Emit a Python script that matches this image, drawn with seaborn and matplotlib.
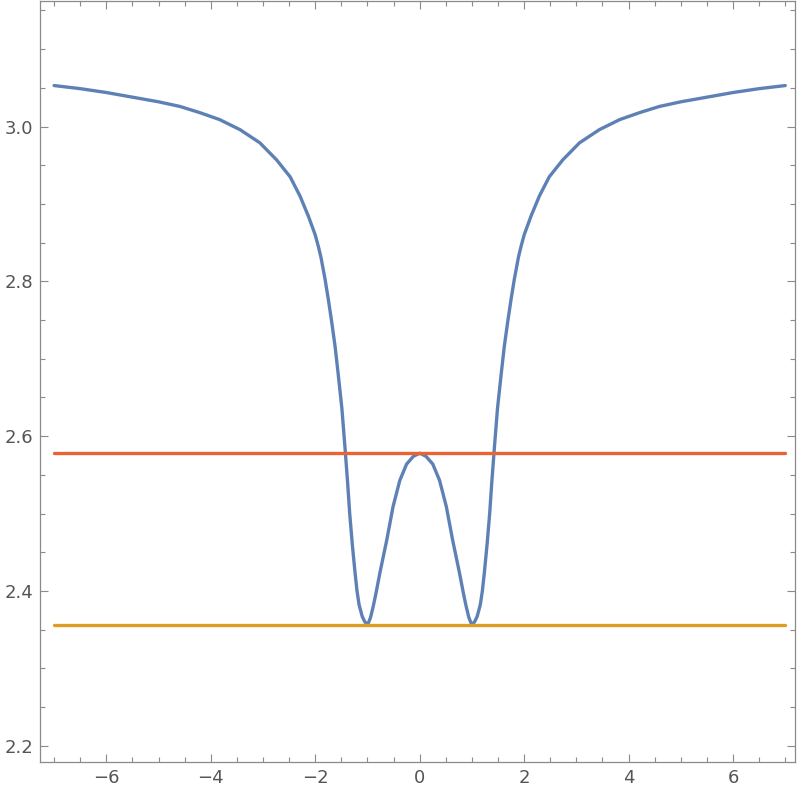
import matplotlib
matplotlib.use("Agg")
import matplotlib.pyplot as plt
import seaborn as sns
import pandas as pd
from matplotlib.ticker import MultipleLocator, FormatStrFormatter

# values
curve_x = [-7.0, -6.5, -6.0, -5.5, -5.0, -4.59, -4.21, -3.83, -3.44, -3.06, -2.74, -2.48,
           -2.29, -2.13, -2.0, -1.94, -1.89, -1.81, -1.75, -1.69, -1.62, -1.56,
           -1.49, -1.43, -1.38, -1.34, -1.29, -1.24, -1.2, -1.16, -1.1, -1.05, -1.02,
           -0.98, -0.94, -0.89, -0.84, -0.76, -0.63, -0.51, -0.38, -0.25, -0.12, 0.0,
           0.12, 0.25, 0.38, 0.51, 0.63, 0.76, 0.84, 0.89, 0.94, 0.98,
           1.02, 1.05, 1.1, 1.16, 1.2, 1.24, 1.29, 1.34, 1.38, 1.43, 1.49,
           1.56, 1.62, 1.69, 1.75, 1.81, 1.89, 1.94, 2.0, 2.13, 2.29,
           2.48, 2.74, 3.06, 3.44, 3.83, 4.21, 4.59, 5.0, 5.5, 6.0, 6.5, 7.0]
curve_y = [3.053, 3.049, 3.044, 3.038, 3.032, 3.026, 3.018, 3.009, 2.996, 2.979, 2.957, 2.935,
           2.910, 2.884, 2.860, 2.845, 2.831, 2.802, 2.777, 2.750, 2.716, 2.680,
           2.636, 2.585, 2.540, 2.500, 2.460, 2.425, 2.400, 2.382, 2.367, 2.360, 2.358,
           2.359, 2.366, 2.380, 2.396, 2.424, 2.466, 2.509, 2.543, 2.564, 2.574, 2.578,
           2.574, 2.564, 2.543, 2.509, 2.466, 2.424, 2.396, 2.380, 2.366, 2.359,
           2.358, 2.360, 2.367, 2.382, 2.400, 2.425, 2.460, 2.500, 2.540, 2.585, 2.636,
           2.680, 2.716, 2.750, 2.777, 2.802, 2.831, 2.845, 2.860, 2.884, 2.910,
           2.935, 2.957, 2.979, 2.996, 3.009, 3.018, 3.026, 3.032, 3.038, 3.044, 3.049, 3.053]
line_x = [-7.0, 7.0]
upper_level = 2.578
lower_level = 2.356

curve = pd.DataFrame({"x": curve_x, "y": curve_y})
upper = pd.DataFrame({"x": line_x, "y": [upper_level] * 2})
lower = pd.DataFrame({"x": line_x, "y": [lower_level] * 2})

sns.set_style("ticks")
plt.rcParams["font.family"] = ["DejaVu Sans"]

fig = plt.figure(figsize=(8, 7.95), dpi=100)
ax = fig.add_axes([0.05, 0.0415, 0.944, 0.957])

sns.lineplot(data=curve, x="x", y="y", sort=False, color="#5E81B5", linewidth=2.4, ax=ax)
sns.lineplot(data=upper, x="x", y="y", color="#EB6235", linewidth=2.4, ax=ax)
sns.lineplot(data=lower, x="x", y="y", color="#E19C24", linewidth=2.4, ax=ax)

ax.set_xlim(-7.27, 7.19)
ax.set_ylim(2.179, 3.162)
ax.set_xlabel("")
ax.set_ylabel("")

ax.xaxis.set_major_locator(MultipleLocator(2))
ax.xaxis.set_minor_locator(MultipleLocator(0.5))
ax.yaxis.set_major_locator(MultipleLocator(0.2))
ax.yaxis.set_minor_locator(MultipleLocator(0.05))
ax.yaxis.set_major_formatter(FormatStrFormatter("%.1f"))

ax.tick_params(which="both", direction="in", top=True, right=True,
               color="#8a8a8a", width=0.8, labelsize=13, labelcolor="#555555")
ax.tick_params(which="major", length=6, pad=5)
ax.tick_params(which="minor", length=3.5)
for s in ax.spines.values():
    s.set_color("#8a8a8a")
    s.set_linewidth(0.9)

fig.savefig("out.png", dpi=100)
